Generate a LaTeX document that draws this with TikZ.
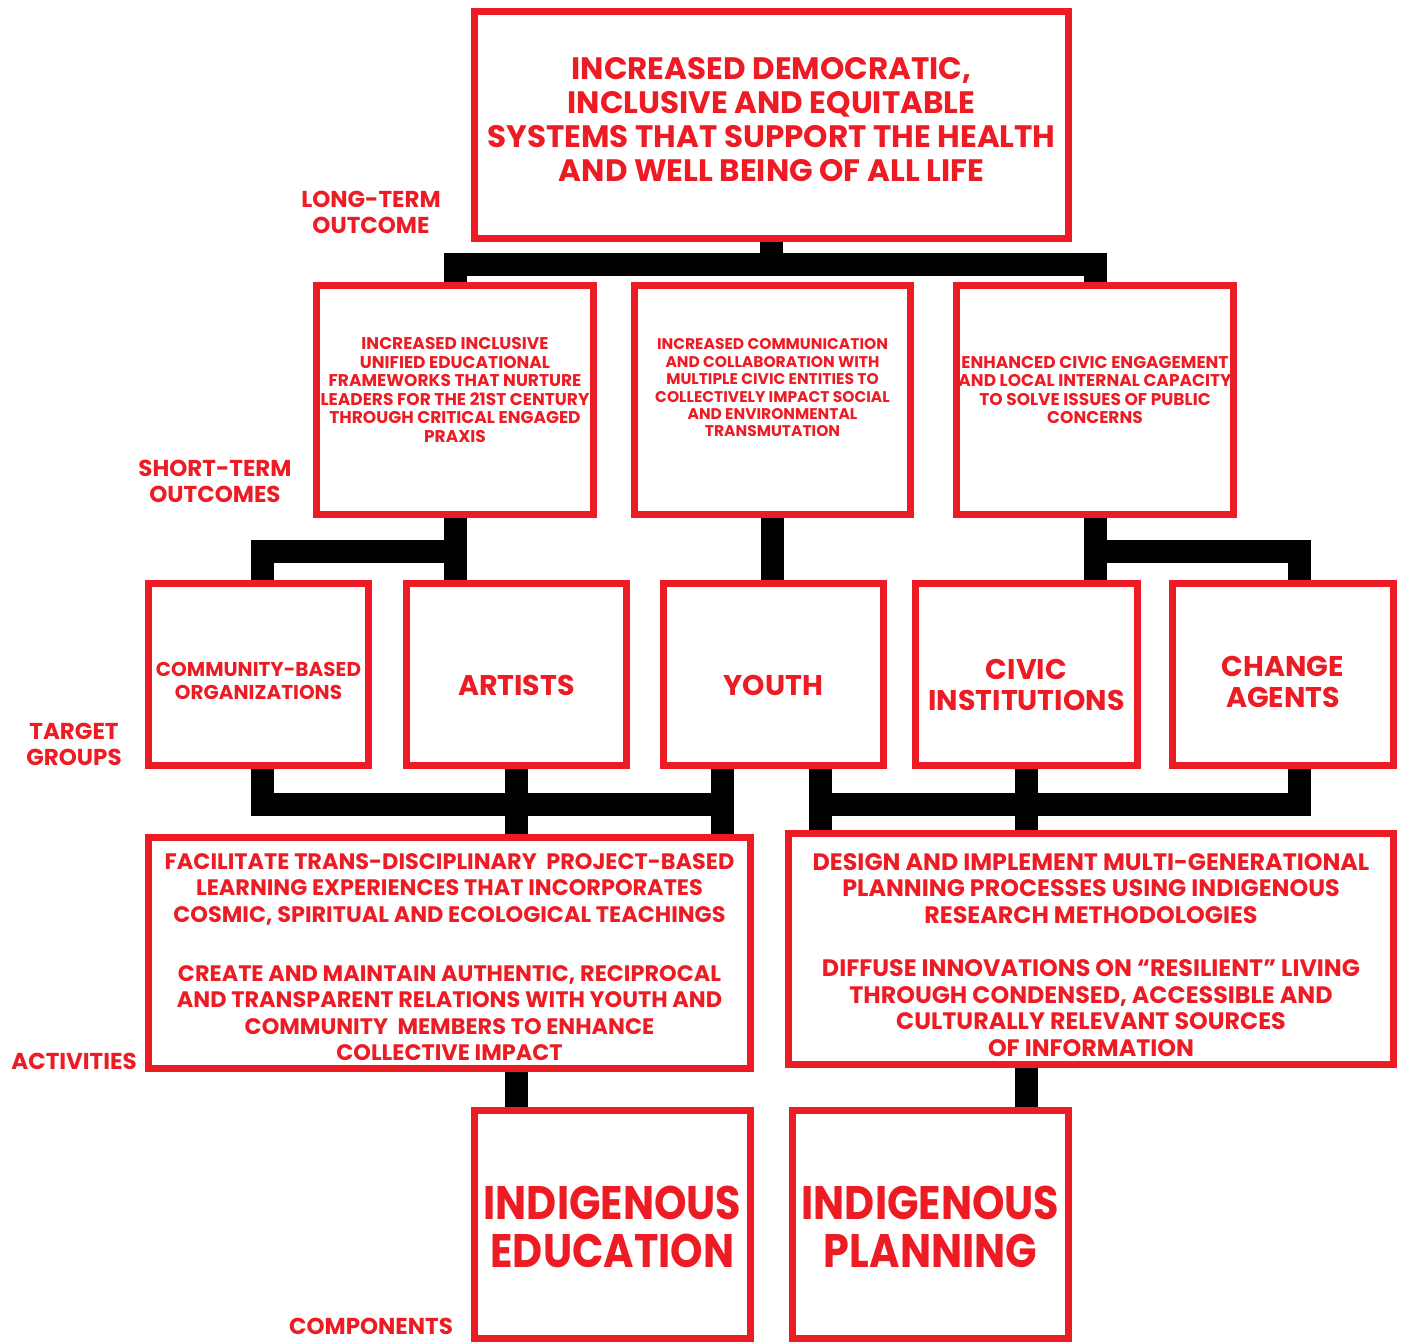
\documentclass[tikz,border=0pt]{standalone}
\usepackage{fontspec}
\setmainfont{Poppins}
\newfontfamily\compfont{Poppins}[FakeStretch=0.88]
\usetikzlibrary{backgrounds}
\definecolor{lmred}{HTML}{ED1C24}

\begin{document}
\begin{tikzpicture}[x=1pt,y=-1pt,
  box/.style={draw=lmred,line width=7pt,inner sep=0pt,outer sep=0pt},
  txt/.style={text=lmred,align=center,inner sep=0pt},
  toptxt/.style={txt,font=\bfseries\fontsize{31}{34}\selectfont},
  sttxt/.style={txt,font=\bfseries\fontsize{17}{18.6}\selectfont},
  grptxt/.style={txt,font=\bfseries\fontsize{28.5}{31}\selectfont},
  acttxt/.style={txt,font=\bfseries\fontsize{22.4}{26.3}\selectfont},
  comptxt/.style={txt,font=\compfont\bfseries\fontsize{47}{48}\selectfont},
  link/.style={line width=23pt,black,line join=miter},
  tag/.style={txt,font=\bfseries\fontsize{23}{26}\selectfont}]
  \useasboundingbox (0,0) rectangle (1403,1342);

  \node[box,minimum width=594pt,minimum height=227pt] (top) at (771.5,125) {};
  \node[toptxt,yshift=5pt] (topt) at (top) {INCREASED DEMOCRATIC,\\INCLUSIVE AND EQUITABLE\\SYSTEMS THAT SUPPORT THE HEALTH\\AND WELL BEING OF ALL LIFE};

  \node[box,minimum width=277pt,minimum height=229pt] (st1) at (455,400) {};
  \node[box,minimum width=276pt,minimum height=229pt] (st2) at (772.5,400) {};
  \node[box,minimum width=277pt,minimum height=229pt] (st3) at (1095,400) {};
  \node[sttxt,yshift=10pt] (st1t) at (st1) {INCREASED INCLUSIVE\\UNIFIED EDUCATIONAL\\FRAMEWORKS THAT NURTURE\\LEADERS FOR THE 21ST CENTURY\\THROUGH CRITICAL ENGAGED\\PRAXIS};
  \node[sttxt,font=\bfseries\fontsize{15.5}{17.4}\selectfont,yshift=12pt] (st2t) at (st2) {INCREASED COMMUNICATION\\AND COLLABORATION WITH\\MULTIPLE CIVIC ENTITIES TO\\COLLECTIVELY IMPACT SOCIAL\\AND ENVIRONMENTAL\\TRANSMUTATION};
  \node[sttxt,yshift=10pt] (st3t) at (st3) {ENHANCED CIVIC ENGAGEMENT\\AND LOCAL INTERNAL CAPACITY\\TO SOLVE ISSUES OF PUBLIC\\CONCERNS};

  \node[box,minimum width=220pt,minimum height=182pt] (cbo) at (258.5,674.5) {};
  \node[box,minimum width=220pt,minimum height=182pt] (art) at (516.5,674.5) {};
  \node[box,minimum width=220pt,minimum height=182pt] (youth) at (773.5,674.5) {};
  \node[box,minimum width=222pt,minimum height=182pt] (civ) at (1026.5,674.5) {};
  \node[box,minimum width=221pt,minimum height=182pt] (chg) at (1283,674.5) {};
  \node[txt,font=\bfseries\fontsize{20}{23}\selectfont,yshift=-6pt] (cbot) at (cbo) {COMMUNITY-BASED\\ORGANIZATIONS};
  \node[grptxt,yshift=-11pt] (artt) at (art) {ARTISTS};
  \node[grptxt,yshift=-11pt] (youtht) at (youth) {YOUTH};
  \node[grptxt,yshift=-10pt] (civt) at (civ) {CIVIC\\INSTITUTIONS};
  \node[grptxt,yshift=-7pt] (chgt) at (chg) {CHANGE\\AGENTS};

  \node[box,minimum width=602pt,minimum height=231pt] (actL) at (449.5,953) {};
  \node[box,minimum width=605pt,minimum height=231pt] (actR) at (1091,949) {};
  \node[acttxt,yshift=-4pt] (actLt) at (actL) {FACILITATE TRANS-DISCIPLINARY \ PROJECT-BASED\\LEARNING EXPERIENCES THAT INCORPORATES\\COSMIC, SPIRITUAL AND ECOLOGICAL TEACHINGS\\[33pt]CREATE AND MAINTAIN AUTHENTIC, RECIPROCAL\\AND TRANSPARENT RELATIONS WITH YOUTH AND\\COMMUNITY \ MEMBERS TO ENHANCE\\COLLECTIVE IMPACT};
  \node[acttxt,font=\bfseries\fontsize{23.8}{26.5}\selectfont,yshift=-6pt] (actRt) at (actR) {DESIGN AND IMPLEMENT MULTI-GENERATIONAL\\PLANNING PROCESSES USING INDIGENOUS\\RESEARCH METHODOLOGIES\\[27pt]DIFFUSE INNOVATIONS ON “RESILIENT” LIVING\\THROUGH CONDENSED, ACCESSIBLE AND\\CULTURALLY RELEVANT SOURCES\\OF INFORMATION};

  \node[box,minimum width=276pt,minimum height=228pt] (edu) at (612.5,1224.5) {};
  \node[box,minimum width=276pt,minimum height=228pt] (plan) at (930.5,1224.5) {};
  \node[comptxt,yshift=-2pt] (edut) at (edu) {INDIGENOUS\\EDUCATION};
  \node[comptxt,yshift=-2pt] (plant) at (plan) {INDIGENOUS\\PLANNING};

  \node[tag] (ltag) at (371,212) {LONG-TERM\\OUTCOME};
  \node[tag] (stag) at (215,481) {SHORT-TERM\\OUTCOMES};
  \node[tag] (gtag) at (74,744) {TARGET\\GROUPS};
  \node[tag] (atag) at (74,1061) {ACTIVITIES};
  \node[tag] (ctag) at (371,1326) {COMPONENTS};

  \coordinate (b1) at (0,264);
  \coordinate (b2) at (0,551);
  \coordinate (b3) at (0,804);

  \begin{pgfonlayer}{background}
    \draw[link] (top.south) -- (top.south |- b1);
    \draw[link] (st1.north) -- (st1.north |- b1) -- (st3.north |- b1) -- (st3.north);
    \draw[link] (st1.south) -- (st1.south |- art.north);
    \draw[link] (st1.south |- b2) -| ([xshift=4pt]cbo.north);
    \draw[link] (st2.south) -- (st2.south |- youth.north);
    \draw[link] (st3.south) -- (st3.south |- civ.north);
    \draw[link] (st3.south |- b2) -| ([xshift=16pt]chg.north);
    \draw[link] ([xshift=4pt]cbo.south) |- ([xshift=-51pt]youth.south |- b3);
    \draw[link] (art.south) -- (art.south |- actL.north);
    \draw[link] ([xshift=-51pt]youth.south) -- ([xshift=-51pt]youth.south |- actL.north);
    \draw[link] ([xshift=47pt]youth.south) -- ([xshift=47pt]youth.south |- actR.north);
    \draw[link] (civ.south) -- (civ.south |- actR.north);
    \draw[link] ([xshift=16pt]chg.south) |- ([xshift=47pt]youth.south |- b3);
    \draw[link] (art.south |- actL.south) -- (art.south |- edu.north);
    \draw[link] (civ.south |- actR.south) -- (civ.south |- plan.north);
  \end{pgfonlayer}
\end{tikzpicture}
\end{document}
